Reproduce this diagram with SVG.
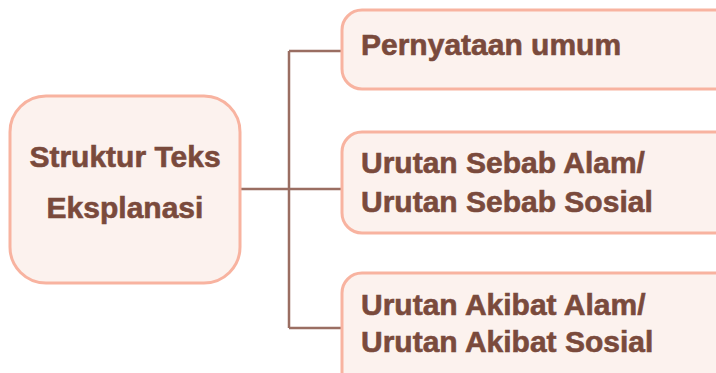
<svg xmlns="http://www.w3.org/2000/svg" width="716" height="373" viewBox="0 0 716 373">
<style>
.box{fill:#fcf2ee;stroke:#f8b3a0;stroke-width:3}
.t{font-family:"Liberation Sans",Arial,sans-serif;font-weight:bold;font-size:30px;fill:#7a4a3c;stroke:#7a4a3c;stroke-width:0.6}
.c{fill:none;stroke:#9a6e62;stroke-width:2.5}
</style>
<rect width="716" height="373" fill="#ffffff"/>
<g id="connectors">
<path class="c" d="M240 189 H342 M289 51 V328 M289 51 H342 M289 328 H342"/>
</g>
<g id="root">
<rect class="box" x="10" y="96" width="230" height="187" rx="36"/>
<text class="t" x="125" y="167" text-anchor="middle">Struktur Teks</text>
<text class="t" x="125" y="218" text-anchor="middle">Eksplanasi</text>
</g>
<g id="n1">
<rect class="box" x="342" y="10" width="400" height="79" rx="20"/>
<text class="t" x="361" y="55">Pernyataan umum</text>
</g>
<g id="n2">
<rect class="box" x="342" y="132" width="400" height="101" rx="20"/>
<text class="t" x="361" y="173">Urutan Sebab Alam/</text>
<text class="t" x="361" y="212">Urutan Sebab Sosial</text>
</g>
<g id="n3">
<rect class="box" x="342" y="273" width="400" height="120" rx="20"/>
<text class="t" x="361" y="315">Urutan Akibat Alam/</text>
<text class="t" x="361" y="352">Urutan Akibat Sosial</text>
</g>
</svg>
